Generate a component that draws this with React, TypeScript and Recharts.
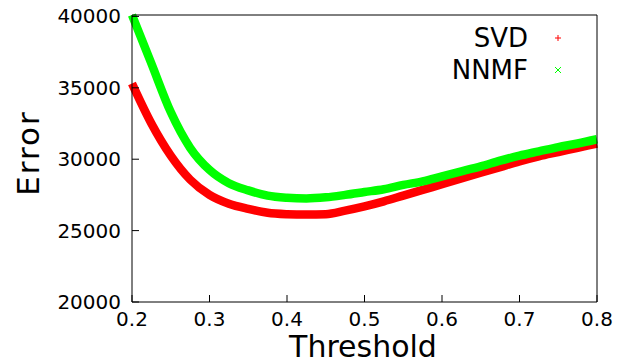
import React from "react";
import { LineChart, Line, XAxis, YAxis, Legend, Label } from "recharts";

const thresholds = [
  0.2, 0.225, 0.25, 0.275, 0.3, 0.325, 0.35, 0.375, 0.4, 0.425, 0.45, 0.475, 0.5,
  0.525, 0.55, 0.575, 0.6, 0.625, 0.65, 0.675, 0.7, 0.725, 0.75, 0.775, 0.8,
];
const svdError = [
  35300, 32500, 30250, 28570, 27500, 26880, 26520, 26250, 26150, 26120, 26150, 26400, 26700,
  27050, 27450, 27850, 28250, 28650, 29050, 29450, 29850, 30200, 30500, 30800, 31100,
];
const nnmfError = [
  40100, 36700, 33300, 30800, 29250, 28320, 27820, 27450, 27300, 27250, 27330, 27500, 27700,
  27900, 28200, 28450, 28800, 29150, 29500, 29900, 30250, 30550, 30850, 31100, 31400,
];
const seriesNames = ["SVD", "NNMF"];
const xTicks = [0.2, 0.3, 0.4, 0.5, 0.6, 0.7, 0.8];
const yTicks = [20000, 25000, 30000, 35000, 40000];

const data = thresholds.map((t, i) => ({ t, svd: svdError[i], nnmf: nnmfError[i] }));

const FONT = "DejaVu Sans";
// negative tick size => ticks point into the plot (gnuplot style)
const TICK = -7;
const tickLine = { stroke: "#000", strokeWidth: 1 };

const bottomTick = ({ x, y, payload }: any) => (
  <text x={x} y={y - TICK + 17} textAnchor="middle" dominantBaseline="central" fontSize={20} fontFamily={FONT} fill="#000">
    {payload.value}
  </text>
);
const leftTick = ({ x, y, payload }: any) => (
  <text x={x + TICK - 11} y={y} textAnchor="end" dominantBaseline="central" fontSize={20} fontFamily={FONT} fill="#000">
    {payload.value}
  </text>
);

const LegendBox = ({ payload }: any) => {
  const items = [...(payload || [])].sort(
    (a: any, b: any) => seriesNames.indexOf(a.value) - seriesNames.indexOf(b.value)
  );
  return (
    <svg width={624} height={100} style={{ display: "block" }}>
      {items.map((p: any, i: number) => {
        const cy = 37 + i * 32;
        const mx = 558;
        return (
          <g key={p.value}>
            <text x={528} y={cy + 10} textAnchor="end" fontSize={26} fontFamily={FONT} fill="#000">
              {p.value}
            </text>
            {i === 0 ? (
              <g stroke={p.color} strokeWidth={1}>
                <line x1={mx - 3} x2={mx + 3} y1={cy + 1} y2={cy + 1} />
                <line x1={mx} x2={mx} y1={cy - 2} y2={cy + 4} />
              </g>
            ) : (
              <g stroke={p.color} strokeWidth={1}>
                <line x1={mx - 3} x2={mx + 3} y1={cy - 2} y2={cy + 4} />
                <line x1={mx - 3} x2={mx + 3} y1={cy + 4} y2={cy - 2} />
              </g>
            )}
          </g>
        );
      })}
    </svg>
  );
};

export default function App() {
  return (
    <div style={{ position: "fixed", left: 0, top: 0, width: 624, height: 364, background: "#fff" }}>
      <LineChart width={624} height={364} data={data} margin={{ top: 14, right: 26, bottom: 0, left: 0 }}>
        <XAxis
          xAxisId="b"
          dataKey="t"
          type="number"
          domain={[0.2, 0.8]}
          ticks={xTicks}
          interval={0}
          height={62}
          tickSize={TICK}
          tickMargin={0}
          tickLine={tickLine}
          tick={bottomTick}
          axisLine={{ stroke: "#000" }}
        >
          <Label
            content={() => (
              <text x={363} y={357} textAnchor="middle" fontSize={30} fontFamily={FONT} fill="#000">
                Threshold
              </text>
            )}
          />
        </XAxis>
        <XAxis
          xAxisId="t"
          orientation="top"
          dataKey="t"
          type="number"
          domain={[0.2, 0.8]}
          ticks={xTicks}
          interval={0}
          height={1}
          tickSize={TICK}
          tickMargin={0}
          tickLine={tickLine}
          tick={false}
          axisLine={{ stroke: "#000" }}
        />
        <YAxis
          yAxisId="l"
          type="number"
          domain={[20000, 40000]}
          ticks={yTicks}
          interval={0}
          width={132}
          tickSize={TICK}
          tickMargin={0}
          tickLine={tickLine}
          tick={leftTick}
          axisLine={{ stroke: "#000" }}
        >
          <Label
            content={() => (
              <text
                x={39}
                y={153}
                transform="rotate(-90 39 153)"
                textAnchor="middle"
                fontSize={31}
                letterSpacing={2}
                fontFamily={FONT}
                fill="#000"
              >
                Error
              </text>
            )}
          />
        </YAxis>
        <YAxis
          yAxisId="r"
          orientation="right"
          type="number"
          domain={[20000, 40000]}
          ticks={yTicks}
          interval={0}
          width={1}
          tickSize={TICK}
          tickMargin={0}
          tickLine={tickLine}
          tick={false}
          axisLine={{ stroke: "#000" }}
        />
        <Legend
          layout="vertical"
          align="center"
          verticalAlign="middle"
          wrapperStyle={{ position: "absolute", left: 0, top: 0, width: 624, height: 100 }}
          content={<LegendBox />}
        />
        <Line
          xAxisId="b"
          yAxisId="l"
          dataKey="svd"
          name="SVD"
          type="monotone"
          stroke="#ff0000"
          strokeWidth={8.5}
          dot={false}
          isAnimationActive={false}
        />
        <Line
          xAxisId="b"
          yAxisId="l"
          dataKey="nnmf"
          name="NNMF"
          type="monotone"
          stroke="#00ff00"
          strokeWidth={8.5}
          dot={false}
          isAnimationActive={false}
        />
      </LineChart>
    </div>
  );
}
